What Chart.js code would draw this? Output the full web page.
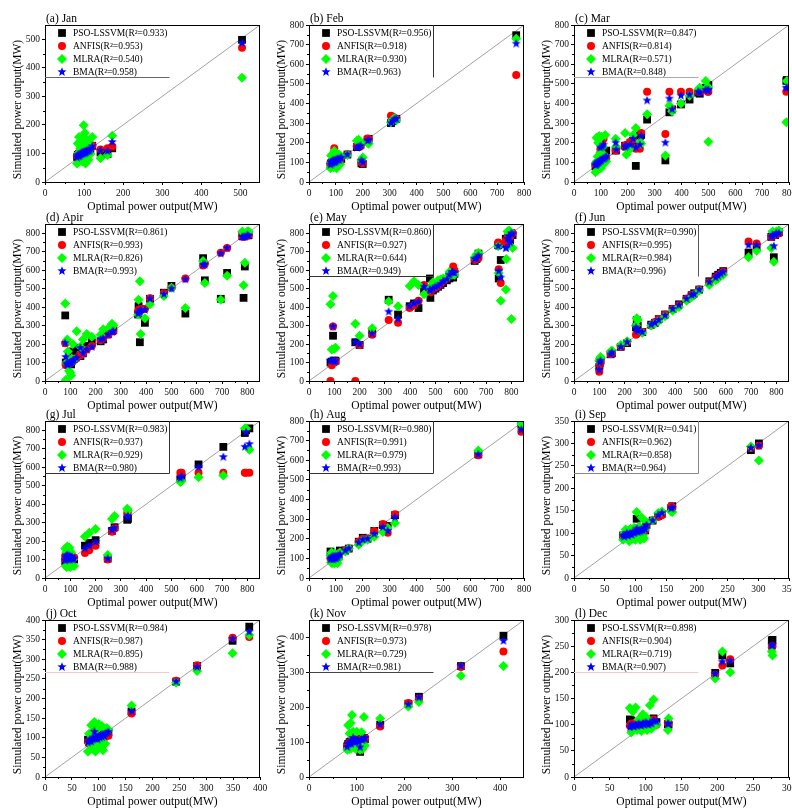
<!DOCTYPE html>
<html lang="en">
<head>
<meta charset="UTF-8" />
<title>Simulated vs optimal power output</title>
<script src="https://cdn.jsdelivr.net/npm/chart.js@4.4.0/dist/chart.umd.min.js"></script>
<style>
  html, body { margin: 0; padding: 0; background: #fff; overflow: hidden; width: 792px; height: 810px; }
  #wrap { position: relative; width: 792px; height: 810px; overflow: hidden; }
  #wrap canvas { position: absolute; }
</style>
</head>
<body>
<div id="wrap"></div>
<script>
// ---- data: optimal output (x) and the four simulated outputs per month ----
const xJan = [82, 84, 85, 87, 89, 90, 92, 94, 95, 97, 99, 100, 102, 104, 105, 107, 109, 111, 113, 116, 121, 142, 160, 172, 504];
const psoJan = [88, 95, 90, 98, 92, 100, 96, 104, 99, 102, 105, 98, 108, 103, 110, 106, 112, 108, 115, 110, 127, 103, 98, 118, 498];
const anfisJan = [94, 90, 98, 93, 101, 96, 104, 99, 107, 101, 97, 110, 104, 112, 100, 109, 106, 115, 110, 118, 128, 114, 118, 124, 470];
const mlraJan = [65, 135, 100, 158, 80, 118, 95, 142, 72, 153, 199, 88, 172, 65, 125, 148, 108, 78, 132, 98, 158, 83, 95, 162, 365];
const bmaJan = [86, 92, 95, 90, 98, 93, 100, 97, 104, 99, 102, 106, 101, 108, 104, 110, 107, 112, 109, 114, 125, 110, 108, 140, 487];

const xFeb = [80, 82, 84, 86, 88, 90, 92, 94, 96, 98, 100, 103, 106, 109, 112, 116, 120, 143, 178, 185, 192, 195, 200, 218, 222, 305, 312, 318, 325, 771];
const psoFeb = [85, 95, 90, 100, 92, 105, 98, 102, 95, 108, 100, 110, 105, 112, 108, 115, 118, 140, 178, 182, 190, 95, 92, 215, 220, 300, 310, 318, 322, 748];
const anfisFeb = [92, 88, 100, 95, 105, 98, 110, 172, 100, 106, 112, 104, 118, 108, 115, 112, 125, 142, 182, 186, 188, 100, 95, 222, 218, 338, 332, 325, 322, 545];
const mlraFeb = [70, 135, 100, 90, 140, 120, 75, 158, 130, 85, 110, 70, 125, 100, 140, 90, 130, 138, 210, 215, 198, 112, 125, 200, 195, 305, 318, 325, 315, 730];
const bmaFeb = [88, 100, 95, 105, 98, 110, 102, 108, 100, 112, 105, 115, 110, 118, 112, 120, 125, 140, 175, 180, 185, 110, 100, 210, 215, 300, 310, 320, 322, 705];

const xMar = [80, 82, 84, 86, 88, 90, 92, 94, 96, 98, 100, 102, 105, 108, 110, 113, 116, 120, 155, 157, 190, 195, 210, 220, 230, 245, 250, 272, 340, 355, 365, 398, 430, 462, 468, 490, 498, 500, 790, 792];
const psoMar = [80, 85, 90, 88, 95, 92, 100, 98, 105, 102, 110, 108, 112, 115, 118, 120, 125, 160, 160, 165, 185, 180, 200, 210, 82, 235, 240, 318, 110, 355, 370, 395, 420, 455, 450, 480, 490, 495, 515, 520];
const anfisMar = [85, 90, 95, 92, 100, 98, 105, 100, 110, 165, 108, 115, 200, 120, 220, 118, 125, 120, 160, 165, 185, 190, 205, 215, 170, 170, 250, 460, 245, 460, 370, 460, 460, 460, 460, 470, 460, 460, 460, 465];
const mlraMar = [50, 100, 225, 60, 130, 200, 80, 235, 110, 150, 70, 230, 120, 180, 140, 95, 240, 105, 220, 180, 250, 140, 170, 240, 275, 205, 195, 345, 135, 390, 360, 400, 440, 470, 480, 515, 485, 205, 305, 515];
const bmaMar = [85, 88, 92, 95, 98, 100, 102, 105, 108, 175, 110, 112, 180, 118, 190, 120, 125, 130, 200, 165, 180, 185, 190, 220, 175, 190, 235, 415, 200, 425, 370, 440, 445, 460, 455, 470, 465, 470, 480, 478];

const xApr = [80, 82, 85, 88, 90, 95, 100, 103, 106, 110, 115, 125, 140, 150, 165, 185, 220, 230, 250, 265, 270, 368, 370, 375, 378, 395, 415, 470, 500, 555, 625, 632, 695, 720, 780, 785, 790, 800, 805];
const psoApr = [355, 100, 90, 95, 95, 100, 105, 90, 110, 160, 120, 180, 135, 150, 190, 210, 215, 225, 255, 270, 275, 360, 405, 210, 390, 315, 445, 478, 515, 365, 665, 545, 445, 585, 785, 450, 620, 790, 790];
const anfisApr = [205, 90, 85, 100, 100, 95, 95, 100, 105, 115, 120, 125, 140, 150, 170, 190, 220, 230, 250, 270, 270, 375, 385, 380, 390, 390, 448, 475, 505, 555, 625, 635, 695, 720, 785, 780, 785, 785, 790];
const mlraApr = [420, 5, 100, 225, 160, 55, 45, 30, 120, 200, 115, 270, 185, 225, 255, 240, 250, 280, 285, 310, 300, 360, 440, 540, 255, 340, 415, 460, 505, 395, 650, 530, 440, 570, 810, 518, 640, 810, 810];
const bmaApr = [205, 130, 95, 90, 90, 95, 100, 95, 105, 110, 115, 125, 180, 150, 170, 185, 225, 230, 250, 265, 270, 365, 370, 375, 385, 385, 445, 470, 500, 550, 630, 630, 690, 720, 780, 780, 780, 790, 785];

const xMay = [85, 90, 95, 100, 105, 183, 200, 250, 315, 352, 398, 415, 433, 455, 478, 480, 490, 500, 510, 520, 530, 545, 555, 565, 570, 575, 655, 662, 670, 748, 750, 758, 778, 780, 785, 790, 792, 795, 800, 805];
const psoMay = [100, 105, 245, 110, 110, 210, 195, 260, 440, 360, 405, 420, 395, 495, 555, 450, 490, 500, 510, 520, 530, 545, 555, 565, 560, 580, 650, 660, 690, 735, 555, 655, 770, 740, 770, 790, 780, 760, 800, 790];
const anfisMay = [0, 85, 295, 100, 105, 0, 195, 250, 330, 315, 395, 410, 435, 520, 490, 480, 500, 505, 515, 525, 540, 555, 580, 600, 620, 600, 655, 660, 665, 750, 605, 530, 760, 750, 780, 780, 790, 780, 795, 800];
const mlraMay = [415, 170, 460, 175, 180, 310, 245, 285, 430, 405, 515, 540, 520, 470, 500, 510, 535, 520, 545, 550, 555, 560, 590, 575, 580, 575, 670, 685, 695, 730, 585, 435, 495, 660, 810, 800, 815, 805, 335, 720];
const bmaMay = [110, 110, 295, 105, 110, 210, 200, 255, 375, 335, 405, 420, 430, 510, 495, 490, 500, 510, 515, 525, 540, 550, 575, 590, 590, 585, 660, 665, 680, 730, 595, 560, 720, 720, 770, 785, 755, 750, 800, 795];

const xJun = [100, 102, 105, 145, 150, 185, 210, 245, 248, 252, 270, 305, 320, 335, 360, 390, 415, 445, 465, 475, 495, 535, 560, 570, 580, 590, 690, 722, 780, 785, 790, 795, 800, 810];
const psoJun = [75, 95, 110, 145, 150, 185, 205, 290, 330, 300, 265, 305, 315, 335, 360, 390, 415, 445, 465, 475, 495, 540, 565, 575, 585, 595, 695, 725, 780, 795, 670, 790, 800, 805];
const anfisJun = [50, 90, 105, 145, 150, 185, 210, 250, 255, 260, 265, 300, 320, 335, 360, 390, 410, 445, 465, 470, 495, 535, 560, 570, 580, 590, 755, 745, 780, 790, 795, 790, 795, 800];
const mlraJun = [110, 120, 130, 160, 165, 195, 215, 300, 340, 330, 260, 300, 310, 325, 350, 380, 400, 435, 455, 465, 490, 520, 545, 555, 570, 575, 670, 705, 720, 810, 645, 800, 810, 815];
const bmaJun = [60, 100, 110, 145, 155, 185, 210, 290, 280, 270, 265, 305, 315, 330, 355, 390, 410, 445, 465, 470, 495, 535, 560, 570, 580, 590, 735, 735, 780, 790, 730, 790, 800, 800];

const xJul = [80, 82, 84, 86, 88, 90, 92, 94, 96, 98, 100, 103, 106, 110, 115, 158, 175, 200, 248, 265, 275, 325, 328, 535, 540, 607, 705, 790, 795, 808];
const psoJul = [90, 110, 100, 95, 120, 105, 115, 100, 110, 95, 105, 100, 110, 105, 100, 175, 190, 205, 105, 255, 275, 315, 320, 535, 545, 615, 710, 785, 800, 810];
const anfisJul = [120, 100, 110, 130, 105, 115, 100, 125, 95, 110, 120, 105, 100, 115, 110, 135, 150, 175, 100, 250, 270, 350, 360, 570, 570, 570, 570, 570, 570, 570];
const mlraJul = [160, 65, 140, 60, 170, 75, 150, 65, 165, 80, 60, 140, 70, 100, 65, 225, 245, 265, 125, 320, 335, 375, 365, 520, 525, 545, 555, 810, 810, 695];
const bmaJul = [95, 110, 120, 100, 125, 110, 105, 115, 120, 100, 110, 105, 115, 100, 105, 160, 175, 195, 105, 260, 270, 330, 335, 540, 550, 600, 655, 710, 790, 725];

const xAug = [80, 82, 84, 86, 88, 90, 92, 94, 96, 98, 100, 103, 106, 110, 115, 135, 148, 185, 200, 218, 243, 275, 293, 320, 630, 790];
const psoAug = [135, 95, 100, 110, 90, 105, 100, 115, 95, 110, 105, 100, 115, 110, 140, 140, 150, 185, 205, 200, 240, 270, 265, 320, 630, 785];
const anfisAug = [100, 110, 95, 105, 115, 100, 110, 95, 105, 100, 115, 110, 105, 120, 130, 140, 150, 185, 200, 200, 240, 275, 230, 325, 625, 745];
const mlraAug = [115, 80, 130, 75, 120, 85, 100, 75, 125, 90, 80, 110, 75, 95, 130, 135, 150, 170, 190, 195, 210, 235, 255, 280, 650, 785];
const bmaAug = [95, 100, 105, 100, 110, 95, 105, 100, 110, 105, 100, 110, 105, 115, 120, 140, 150, 180, 195, 200, 225, 260, 240, 310, 630, 755];

const xSep = [80, 82, 84, 86, 88, 90, 92, 94, 96, 98, 100, 102, 104, 106, 108, 110, 112, 114, 116, 118, 128, 137, 143, 158, 160, 288, 301];
const psoSep = [95, 90, 92, 98, 95, 100, 96, 102, 98, 104, 100, 132, 102, 105, 100, 108, 104, 110, 106, 118, 128, 138, 143, 155, 160, 285, 300];
const anfisSep = [92, 95, 90, 96, 100, 94, 102, 98, 104, 100, 106, 108, 100, 104, 110, 102, 108, 112, 106, 120, 128, 136, 140, 160, 158, 290, 295];
const mlraSep = [85, 100, 108, 90, 105, 82, 110, 95, 88, 112, 85, 147, 92, 115, 85, 135, 95, 88, 110, 125, 128, 145, 148, 148, 147, 293, 262];
const bmaSep = [95, 92, 96, 100, 94, 98, 100, 96, 102, 100, 104, 110, 102, 106, 104, 108, 106, 112, 108, 118, 128, 140, 145, 155, 157, 290, 295];

const xOct = [80, 82, 84, 86, 88, 90, 92, 94, 96, 98, 100, 102, 104, 106, 108, 110, 112, 115, 118, 161, 244, 283, 349, 380];
const psoOct = [95, 90, 100, 92, 98, 105, 120, 95, 100, 98, 104, 100, 106, 102, 108, 104, 110, 108, 115, 167, 243, 283, 347, 383];
const anfisOct = [90, 85, 95, 88, 92, 100, 95, 98, 92, 100, 96, 102, 98, 104, 100, 106, 102, 108, 105, 162, 245, 285, 355, 357];
const mlraOct = [65, 110, 85, 132, 100, 70, 140, 65, 120, 85, 135, 75, 95, 130, 68, 110, 85, 125, 120, 182, 240, 270, 315, 362];
const bmaOct = [88, 92, 95, 90, 96, 100, 115, 98, 102, 96, 104, 100, 106, 102, 108, 104, 110, 112, 115, 167, 243, 280, 352, 370];

const xNov = [80, 82, 84, 85, 87, 88, 90, 92, 94, 96, 98, 100, 102, 104, 107, 110, 112, 115, 117, 149, 208, 230, 318, 407];
const psoNov = [88, 95, 92, 100, 96, 102, 98, 110, 100, 104, 98, 106, 100, 108, 72, 110, 104, 112, 108, 150, 210, 230, 318, 405];
const anfisNov = [85, 92, 98, 95, 100, 96, 104, 115, 100, 106, 98, 102, 108, 100, 90, 106, 110, 104, 112, 145, 212, 225, 315, 360];
const mlraNov = [78, 148, 80, 125, 155, 82, 178, 130, 85, 100, 80, 130, 95, 85, 78, 128, 80, 172, 90, 168, 202, 215, 290, 318];
const bmaNov = [86, 94, 96, 98, 100, 95, 102, 112, 100, 105, 100, 104, 106, 102, 85, 108, 106, 110, 112, 150, 208, 228, 318, 390];

const xDec = [78, 80, 82, 84, 86, 88, 90, 92, 94, 96, 98, 100, 102, 104, 106, 108, 111, 115, 131, 132, 197, 207, 218, 276, 277];
const psoDec = [110, 108, 100, 105, 98, 102, 100, 104, 100, 98, 102, 100, 105, 98, 102, 100, 112, 105, 101, 100, 199, 232, 217, 261, 262];
const anfisDec = [98, 102, 100, 96, 104, 100, 98, 102, 106, 100, 98, 104, 100, 102, 98, 106, 110, 100, 103, 102, 195, 213, 225, 248, 250];
const mlraDec = [132, 85, 125, 95, 133, 90, 110, 95, 88, 120, 92, 115, 90, 108, 137, 92, 148, 100, 90, 112, 188, 240, 200, 240, 232];
const bmaDec = [95, 100, 98, 96, 100, 98, 102, 100, 98, 102, 100, 104, 102, 100, 104, 102, 108, 106, 102, 101, 197, 220, 222, 251, 252];

const panelLabels = ["(a) Jan", "(b) Feb", "(c) Mar", "(d) Apir", "(e) May", "(f) Jun",
  "(g) Jul", "(h) Aug", "(i) Sep", "(j) Oct", "(k) Nov", "(l) Dec"];
const axisMax = [550, 800, 800, 850, 850, 850, 850, 800, 350, 400, 450, 300];
const tickStep = [100, 100, 100, 100, 100, 100, 100, 100, 50, 50, 100, 50];
const seriesNames = ["PSO-LSSVM", "ANFIS", "MLRA", "BMA"];
const r2Values = [
  ["0.933", "0.953", "0.540", "0.958"],
  ["0.956", "0.918", "0.930", "0.963"],
  ["0.847", "0.814", "0.571", "0.848"],
  ["0.861", "0.993", "0.826", "0.993"],
  ["0.860", "0.927", "0.644", "0.949"],
  ["0.990", "0.995", "0.984", "0.996"],
  ["0.983", "0.937", "0.929", "0.980"],
  ["0.980", "0.991", "0.979", "0.993"],
  ["0.941", "0.962", "0.858", "0.964"],
  ["0.984", "0.987", "0.895", "0.988"],
  ["0.978", "0.973", "0.729", "0.981"],
  ["0.898", "0.904", "0.719", "0.907"],
];

const monthX = [xJan, xFeb, xMar, xApr, xMay, xJun, xJul, xAug, xSep, xOct, xNov, xDec];
const monthY = [
  [psoJan, anfisJan, mlraJan, bmaJan], [psoFeb, anfisFeb, mlraFeb, bmaFeb],
  [psoMar, anfisMar, mlraMar, bmaMar], [psoApr, anfisApr, mlraApr, bmaApr],
  [psoMay, anfisMay, mlraMay, bmaMay], [psoJun, anfisJun, mlraJun, bmaJun],
  [psoJul, anfisJul, mlraJul, bmaJul], [psoAug, anfisAug, mlraAug, bmaAug],
  [psoSep, anfisSep, mlraSep, bmaSep], [psoOct, anfisOct, mlraOct, bmaOct],
  [psoNov, anfisNov, mlraNov, bmaNov], [psoDec, anfisDec, mlraDec, bmaDec],
];

// ---- look ----
const serif = '"Liberation Serif", "Times New Roman", serif';
Chart.defaults.font.family = serif;
const colLeft = [0, 264, 529];
const rowTop = [0, 199, 396, 595];
// which edges of the legend frame show up in each panel
const legendEdges = ["b", "r", "b", "", "br", "r", "br", "br", "br", "b", "b", "b"];
const legendEdgeColor = ["#666", "#333", "#aaa", "", "#333", "#555", "#333", "#333", "#888", "#f2caca", "#444", "#f2caca"];

function makeStar(color, r) {
  const c = document.createElement("canvas");
  const s = Math.ceil(r * 2) + 2;
  c.width = s;
  c.height = s;
  const g = c.getContext("2d");
  g.fillStyle = color;
  g.beginPath();
  for (let k = 0; k < 10; k++) {
    const rr = k % 2 ? r * 0.42 : r;
    const ang = -Math.PI / 2 + (k * Math.PI) / 5;
    g.lineTo(s / 2 + rr * Math.cos(ang), s / 2 + rr * Math.sin(ang));
  }
  g.closePath();
  g.fill();
  return c;
}
const starImg = makeStar("#0000ff", 4.8);

const markers = [
  { style: "rect", color: "#000000", radius: 5.5 },
  { style: "circle", color: "#ff0000", radius: 4 },
  { style: "rectRot", color: "#00ff00", radius: 5 },
  { style: starImg, color: "#0000ff", radius: 5 },
];

function drawMarker(ctx, m, x, y) {
  ctx.fillStyle = m.color;
  ctx.beginPath();
  if (m.style === "rect") {
    const h = m.radius * Math.SQRT1_2;
    ctx.rect(x - h, y - h, 2 * h, 2 * h);
  } else if (m.style === "circle") {
    ctx.arc(x, y, m.radius, 0, Math.PI * 2);
  } else if (m.style === "rectRot") {
    ctx.moveTo(x, y - m.radius);
    ctx.lineTo(x + m.radius, y);
    ctx.lineTo(x, y + m.radius);
    ctx.lineTo(x - m.radius, y);
    ctx.closePath();
  } else {
    ctx.drawImage(m.style, x - m.style.width / 2, y - m.style.height / 2);
    return;
  }
  ctx.fill();
}

const panelDecor = {
  id: "panelDecor",
  afterDraw(chart, args, opts) {
    const { ctx, chartArea: a, scales } = chart;
    const i = opts.index;
    ctx.save();
    // frame
    ctx.strokeStyle = "#000";
    ctx.lineWidth = 1;
    ctx.strokeRect(a.left + 0.5, a.top + 0.5, a.right - a.left - 1, a.bottom - a.top);
    // minor ticks
    const step = tickStep[i];
    ctx.beginPath();
    for (let v = step / 2; v < axisMax[i]; v += step) {
      const px = Math.round(scales.x.getPixelForValue(v)) + 0.5;
      ctx.moveTo(px, a.bottom);
      ctx.lineTo(px, a.bottom + 2);
      const py = Math.round(scales.y.getPixelForValue(v)) + 0.5;
      ctx.moveTo(a.left, py);
      ctx.lineTo(a.left - 2, py);
    }
    ctx.stroke();

    // legend
    const edges = legendEdges[i];
    if (edges) {
      ctx.strokeStyle = legendEdgeColor[i];
      ctx.beginPath();
      const bx = a.left + 124.5, by = a.top + 52.5;
      if (edges.includes("b")) { ctx.moveTo(a.left, by); ctx.lineTo(bx, by); }
      if (edges.includes("r")) { ctx.moveTo(bx, a.top); ctx.lineTo(bx, by); }
      ctx.stroke();
    }
    ctx.font = "9.5px " + serif;
    ctx.textBaseline = "middle";
    seriesNames.forEach((name, k) => {
      const y = a.top + 8 + k * 13;
      drawMarker(ctx, markers[k], a.left + 17, y);
      ctx.fillStyle = "#000";
      ctx.fillText(name + "(R\u00B2=" + r2Values[i][k] + ")", a.left + 28, y + 0.5);
    });

    // panel label and axis titles
    ctx.fillStyle = "#000";
    ctx.font = "11.5px " + serif;
    ctx.textBaseline = "alphabetic";
    ctx.textAlign = "left";
    ctx.fillText(panelLabels[i], a.left + 1, a.top - 3);
    ctx.textAlign = "center";
    ctx.textBaseline = "middle";
    ctx.fillText("Optimal power output(MW)", (a.left + a.right) / 2, a.bottom + 25);
    ctx.translate(18, (a.top + a.bottom) / 2 + 6);
    ctx.rotate(-Math.PI / 2);
    ctx.fillText("Simulated power output(MW)", 0, 0);
    ctx.restore();
  },
};

const wrap = document.getElementById("wrap");

monthX.forEach((xs, i) => {
  const canvas = document.createElement("canvas");
  canvas.width = 280;
  canvas.height = 215;
  canvas.style.left = colLeft[i % 3] + "px";
  canvas.style.top = rowTop[Math.floor(i / 3)] + "px";
  wrap.appendChild(canvas);

  const max = axisMax[i];
  const datasets = [
    {
      type: "line",
      data: [{ x: 0, y: 0 }, { x: max, y: max }],
      borderColor: "#8a8a8a",
      borderWidth: 0.8,
      pointRadius: 0,
      order: 5,
    },
  ];
  monthY[i].forEach((ys, k) => {
    datasets.push({
      label: seriesNames[k],
      data: xs.map((x, j) => ({ x, y: ys[j] })),
      pointStyle: markers[k].style,
      pointRadius: markers[k].radius,
      backgroundColor: markers[k].color,
      borderWidth: 0,
      order: 4 - k,
    });
  });

  const tickFont = { size: 9.5, family: serif };
  new Chart(canvas, {
    type: "scatter",
    data: { datasets },
    options: {
      responsive: false,
      animation: false,
      devicePixelRatio: 1,
      layout: { padding: { top: 25, right: 20, left: 0, bottom: 0 } },
      plugins: { legend: { display: false }, tooltip: { enabled: false }, panelDecor: { index: i } },
      scales: {
        x: {
          type: "linear",
          min: 0,
          max,
          ticks: { stepSize: tickStep[i], includeBounds: false, maxRotation: 0, autoSkip: false, font: tickFont, color: "#111", padding: 3 },
          grid: { drawOnChartArea: false, color: "#000", tickLength: 3 },
          border: { display: false },
          afterFit(s) { s.height = 33; s.paddingLeft = 0; s.paddingRight = 0; },
        },
        y: {
          type: "linear",
          min: 0,
          max,
          ticks: { stepSize: tickStep[i], includeBounds: false, font: tickFont, color: "#111", padding: 2 },
          grid: { drawOnChartArea: false, color: "#000", tickLength: 3 },
          border: { display: false },
          afterFit(s) { s.width = 45; s.paddingTop = 0; s.paddingBottom = 0; },
        },
      },
    },
    plugins: [panelDecor],
  });
});
</script>
</body>
</html>
